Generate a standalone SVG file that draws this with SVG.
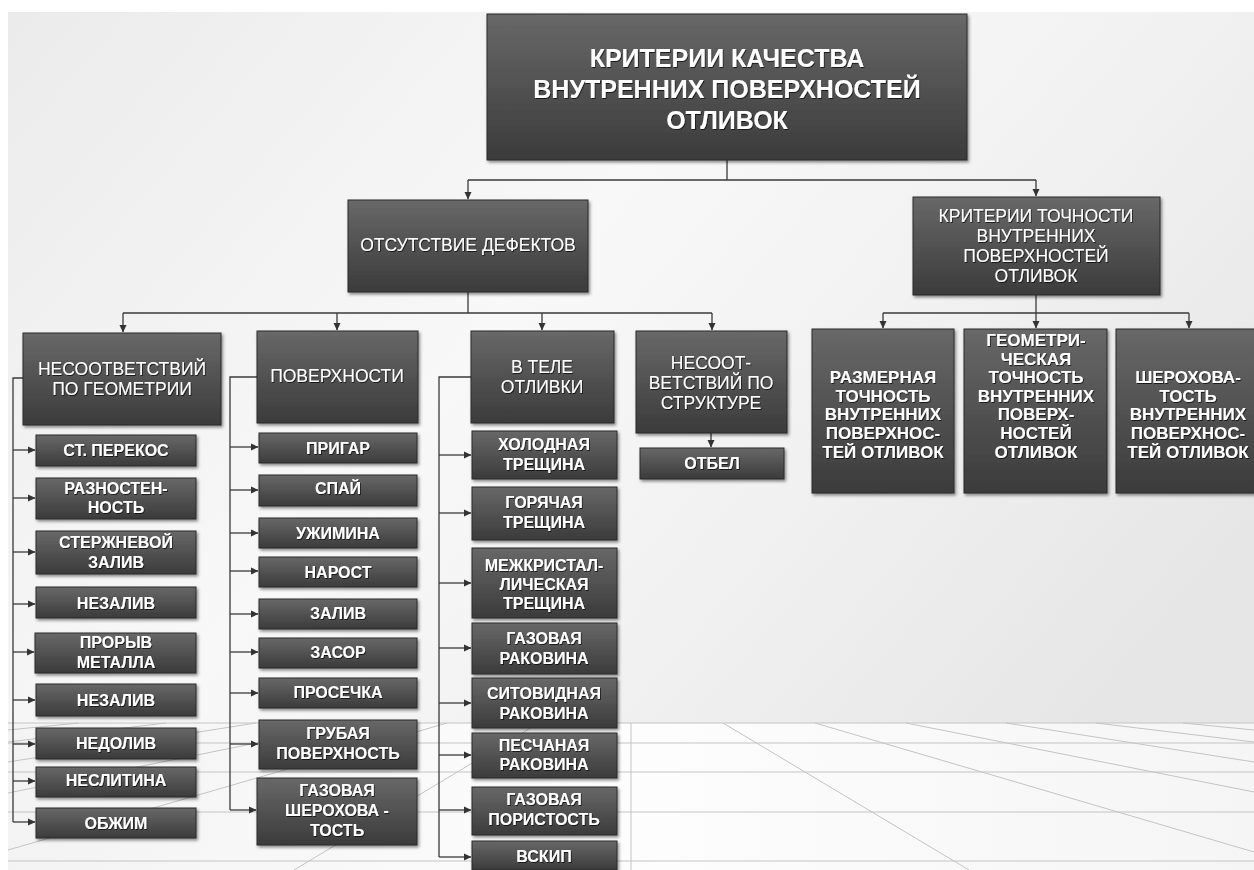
<svg xmlns="http://www.w3.org/2000/svg" width="1254" height="870" viewBox="0 0 1254 870">
<defs>
<linearGradient id="bg" x1="0" y1="0" x2="1" y2="0.6">
<stop offset="0" stop-color="#ebebeb"/>
<stop offset="0.45" stop-color="#f8f8f8"/>
<stop offset="0.7" stop-color="#f1f1f1"/>
<stop offset="1" stop-color="#e6e6e6"/>
</linearGradient>
<linearGradient id="floor" x1="0" y1="0" x2="1" y2="0">
<stop offset="0" stop-color="#f3f3f3"/>
<stop offset="0.5" stop-color="#fdfdfd"/>
<stop offset="1" stop-color="#f5f5f5"/>
</linearGradient>
<linearGradient id="box" x1="0" y1="0" x2="0" y2="1">
<stop offset="0" stop-color="#686868"/>
<stop offset="1" stop-color="#3b3b3b"/>
</linearGradient>
<filter id="sh" x="-10%" y="-10%" width="125%" height="130%">
<feDropShadow dx="1.5" dy="2" stdDeviation="1.5" flood-color="#000" flood-opacity="0.45"/>
</filter>
<filter id="ts" x="-5%" y="-20%" width="110%" height="150%">
<feDropShadow dx="0.8" dy="1" stdDeviation="0.6" flood-color="#000" flood-opacity="0.7"/>
</filter>
<marker id="arr" markerWidth="8" markerHeight="8" refX="7" refY="4" orient="auto" markerUnits="userSpaceOnUse">
<path d="M0,0.5 L7.5,4 L0,7.5 Z" fill="#333"/>
</marker>
<style>
.b{fill:url(#box);stroke:#2b2b2b;stroke-width:1;filter:url(#sh)}
.t{fill:#fff;font-family:"Liberation Sans",Arial,sans-serif;text-anchor:middle;filter:url(#ts)}
.t1{font-size:25px;font-weight:bold}
.t2{font-size:17.5px}
.t3{font-size:16px;font-weight:bold}
.t4{font-size:17px;font-weight:bold}
.c{fill:none;stroke:#3a3a3a;stroke-width:1.3}
.a{fill:none;stroke:#3a3a3a;stroke-width:1.3;marker-end:url(#arr)}
.g{fill:none;stroke:#c4c4c4;stroke-width:1}
</style>
</defs>
<rect width="1254" height="870" fill="#ffffff"/>
<rect x="8" y="12" width="1246" height="858" fill="url(#bg)"/>
<rect x="8" y="723" width="1246" height="147" fill="url(#floor)"/>
<g id="floor-grid">
<path class="g" d="M8,723H1254M8,743H1254M8,772H1254M8,812H1254M8,861H1254M631,723V870"/>
<path class="g" d="M723,723L969,870M815,723L1254,852M906,723L1254,792M1006,723L1254,762M1096,723L1254,742M1183,723L1254,730"/>
<path class="g" d="M539,723L294,870M447,723L8,850M356,723L8,793M256,723L8,762M166,723L8,742M79,723L8,730"/>
</g>
<g id="connectors">
<path class="c" d="M727,160V180M468,180H1036"/>
<path class="a" d="M468,180V199"/>
<path class="a" d="M1036,180V196"/>
<path class="c" d="M468,292V313M123,313H712"/>
<path class="a" d="M123,313V332"/>
<path class="a" d="M337,313V330"/>
<path class="a" d="M542,313V330"/>
<path class="a" d="M712,313V330"/>
<path class="c" d="M1036,295V313M883,313H1189"/>
<path class="a" d="M883,313V328"/>
<path class="a" d="M1036,313V328"/>
<path class="a" d="M1189,313V328"/>
<path class="c" d="M23,378H13V822"/>
<path class="a" d="M13,450H35"/>
<path class="a" d="M13,498H35"/>
<path class="a" d="M13,552H35"/>
<path class="a" d="M13,604H35"/>
<path class="a" d="M13,652H34"/>
<path class="a" d="M13,700H35"/>
<path class="a" d="M13,744H35"/>
<path class="a" d="M13,781H35"/>
<path class="a" d="M13,822H35"/>
<path class="c" d="M257,377H230V810"/>
<path class="a" d="M230,447H258"/>
<path class="a" d="M230,490H258"/>
<path class="a" d="M230,533H258"/>
<path class="a" d="M230,571H258"/>
<path class="a" d="M230,614H258"/>
<path class="a" d="M230,652H258"/>
<path class="a" d="M230,693H258"/>
<path class="a" d="M230,744H258"/>
<path class="a" d="M230,810H256"/>
<path class="c" d="M471,377H439V857"/>
<path class="a" d="M439,455H471"/>
<path class="a" d="M439,513H471"/>
<path class="a" d="M439,583H471"/>
<path class="a" d="M439,648H471"/>
<path class="a" d="M439,703H471"/>
<path class="a" d="M439,755H471"/>
<path class="a" d="M439,810H471"/>
<path class="a" d="M439,857H471"/>
<path class="a" d="M711,433V447"/>
</g>
<g id="root"><rect class="b" x="487" y="14" width="480" height="146"/>
<text class="t t1"><tspan x="727" y="67">КРИТЕРИИ КАЧЕСТВА</tspan><tspan x="727" y="98">ВНУТРЕННИХ ПОВЕРХНОСТЕЙ</tspan><tspan x="727" y="129">ОТЛИВОК</tspan></text></g>
<g id="n-defects"><rect class="b" x="348" y="200" width="240" height="92"/>
<text class="t t2" x="468" y="251">ОТСУТСТВИЕ ДЕФЕКТОВ</text></g>
<g id="n-accuracy"><rect class="b" x="913" y="197" width="247" height="98"/>
<text class="t t2"><tspan x="1036" y="222">КРИТЕРИИ ТОЧНОСТИ</tspan><tspan x="1036" y="242">ВНУТРЕННИХ</tspan><tspan x="1036" y="262">ПОВЕРХНОСТЕЙ</tspan><tspan x="1036" y="282">ОТЛИВОК</tspan></text></g>
<g id="n-geom"><rect class="b" x="23" y="333" width="198" height="92"/>
<text class="t t2"><tspan x="122" y="375">НЕСООТВЕТСТВИЙ</tspan><tspan x="122" y="395">ПО ГЕОМЕТРИИ</tspan></text></g>
<g id="n-surf"><rect class="b" x="257" y="331" width="161" height="92"/>
<text class="t t2" x="337" y="382">ПОВЕРХНОСТИ</text></g>
<g id="n-body"><rect class="b" x="471" y="331" width="143" height="92"/>
<text class="t t2"><tspan x="542" y="373">В ТЕЛЕ</tspan><tspan x="542" y="393">ОТЛИВКИ</tspan></text></g>
<g id="n-struct"><rect class="b" x="636" y="331" width="151" height="102"/>
<text class="t t2"><tspan x="711" y="369">НЕСООТ-</tspan><tspan x="711" y="389">ВЕТСТВИЙ ПО</tspan><tspan x="711" y="409">СТРУКТУРЕ</tspan></text></g>
<g id="n-otbel"><rect class="b" x="640" y="448" width="144" height="31"/>
<text class="t t3" x="712" y="469">ОТБЕЛ</text></g>
<g id="n-size"><rect class="b" x="812" y="329" width="142" height="164"/>
<text class="t t4"><tspan x="883" y="383">РАЗМЕРНАЯ</tspan><tspan x="883" y="402">ТОЧНОСТЬ</tspan><tspan x="883" y="420">ВНУТРЕННИХ</tspan><tspan x="883" y="439">ПОВЕРХНОС-</tspan><tspan x="883" y="458">ТЕЙ ОТЛИВОК</tspan></text></g>
<g id="n-geomacc"><rect class="b" x="964" y="329" width="143" height="164"/>
<text class="t t4"><tspan x="1036" y="346">ГЕОМЕТРИ-</tspan><tspan x="1036" y="365">ЧЕСКАЯ</tspan><tspan x="1036" y="383">ТОЧНОСТЬ</tspan><tspan x="1036" y="402">ВНУТРЕННИХ</tspan><tspan x="1036" y="420">ПОВЕРХ-</tspan><tspan x="1036" y="439">НОСТЕЙ</tspan><tspan x="1036" y="458">ОТЛИВОК</tspan></text></g>
<g id="n-rough"><rect class="b" x="1116" y="329" width="142" height="164"/>
<text class="t t4"><tspan x="1188" y="383">ШЕРОХОВА-</tspan><tspan x="1188" y="402">ТОСТЬ</tspan><tspan x="1188" y="420">ВНУТРЕННИХ</tspan><tspan x="1188" y="439">ПОВЕРХНОС-</tspan><tspan x="1188" y="458">ТЕЙ ОТЛИВОК</tspan></text></g>
<g id="g1"><rect class="b" x="36" y="435" width="160" height="31"/><text class="t t3" x="116" y="456">СТ. ПЕРЕКОС</text></g>
<g id="g2"><rect class="b" x="36" y="478" width="160" height="41"/><text class="t t3"><tspan x="116" y="494">РАЗНОСТЕН-</tspan><tspan x="116" y="513">НОСТЬ</tspan></text></g>
<g id="g3"><rect class="b" x="36" y="531" width="160" height="43"/><text class="t t3"><tspan x="116" y="548">СТЕРЖНЕВОЙ</tspan><tspan x="116" y="568">ЗАЛИВ</tspan></text></g>
<g id="g4"><rect class="b" x="36" y="587" width="160" height="31"/><text class="t t3" x="116" y="609">НЕЗАЛИВ</text></g>
<g id="g5"><rect class="b" x="35" y="633" width="161" height="40"/><text class="t t3"><tspan x="116" y="648">ПРОРЫВ</tspan><tspan x="116" y="668">МЕТАЛЛА</tspan></text></g>
<g id="g6"><rect class="b" x="36" y="684" width="160" height="32"/><text class="t t3" x="116" y="706">НЕЗАЛИВ</text></g>
<g id="g7"><rect class="b" x="36" y="728" width="160" height="31"/><text class="t t3" x="116" y="749">НЕДОЛИВ</text></g>
<g id="g8"><rect class="b" x="36" y="767" width="160" height="30"/><text class="t t3" x="116" y="786">НЕСЛИТИНА</text></g>
<g id="g9"><rect class="b" x="36" y="808" width="160" height="30"/><text class="t t3" x="116" y="829">ОБЖИМ</text></g>
<g id="s1"><rect class="b" x="259" y="433" width="158" height="30"/><text class="t t3" x="338" y="454">ПРИГАР</text></g>
<g id="s2"><rect class="b" x="259" y="475" width="158" height="31"/><text class="t t3" x="338" y="494">СПАЙ</text></g>
<g id="s3"><rect class="b" x="259" y="518" width="158" height="30"/><text class="t t3" x="338" y="539">УЖИМИНА</text></g>
<g id="s4"><rect class="b" x="259" y="557" width="158" height="30"/><text class="t t3" x="338" y="578">НАРОСТ</text></g>
<g id="s5"><rect class="b" x="259" y="599" width="158" height="30"/><text class="t t3" x="338" y="619">ЗАЛИВ</text></g>
<g id="s6"><rect class="b" x="259" y="638" width="158" height="30"/><text class="t t3" x="338" y="658">ЗАСОР</text></g>
<g id="s7"><rect class="b" x="259" y="678" width="158" height="30"/><text class="t t3" x="338" y="698">ПРОСЕЧКА</text></g>
<g id="s8"><rect class="b" x="259" y="720" width="158" height="49"/><text class="t t3"><tspan x="338" y="739">ГРУБАЯ</tspan><tspan x="338" y="759">ПОВЕРХНОСТЬ</tspan></text></g>
<g id="s9"><rect class="b" x="257" y="778" width="160" height="67"/><text class="t t3"><tspan x="337" y="796">ГАЗОВАЯ</tspan><tspan x="337" y="816">ШЕРОХОВА -</tspan><tspan x="337" y="836">ТОСТЬ</tspan></text></g>
<g id="b1"><rect class="b" x="472" y="431" width="145" height="48"/><text class="t t3"><tspan x="544" y="450">ХОЛОДНАЯ</tspan><tspan x="544" y="470">ТРЕЩИНА</tspan></text></g>
<g id="b2"><rect class="b" x="472" y="487" width="145" height="53"/><text class="t t3"><tspan x="544" y="508">ГОРЯЧАЯ</tspan><tspan x="544" y="528">ТРЕЩИНА</tspan></text></g>
<g id="b3"><rect class="b" x="472" y="548" width="145" height="70"/><text class="t t3"><tspan x="544" y="571">МЕЖКРИСТАЛ-</tspan><tspan x="544" y="590">ЛИЧЕСКАЯ</tspan><tspan x="544" y="609">ТРЕЩИНА</tspan></text></g>
<g id="b4"><rect class="b" x="472" y="623" width="145" height="51"/><text class="t t3"><tspan x="544" y="644">ГАЗОВАЯ</tspan><tspan x="544" y="664">РАКОВИНА</tspan></text></g>
<g id="b5"><rect class="b" x="472" y="678" width="145" height="50"/><text class="t t3"><tspan x="544" y="699">СИТОВИДНАЯ</tspan><tspan x="544" y="719">РАКОВИНА</tspan></text></g>
<g id="b6"><rect class="b" x="472" y="733" width="145" height="45"/><text class="t t3"><tspan x="544" y="751">ПЕСЧАНАЯ</tspan><tspan x="544" y="770">РАКОВИНА</tspan></text></g>
<g id="b7"><rect class="b" x="472" y="787" width="145" height="48"/><text class="t t3"><tspan x="544" y="805">ГАЗОВАЯ</tspan><tspan x="544" y="825">ПОРИСТОСТЬ</tspan></text></g>
<g id="b8"><rect class="b" x="472" y="841" width="145" height="29"/><text class="t t3" x="544" y="862">ВСКИП</text></g>
</svg>
